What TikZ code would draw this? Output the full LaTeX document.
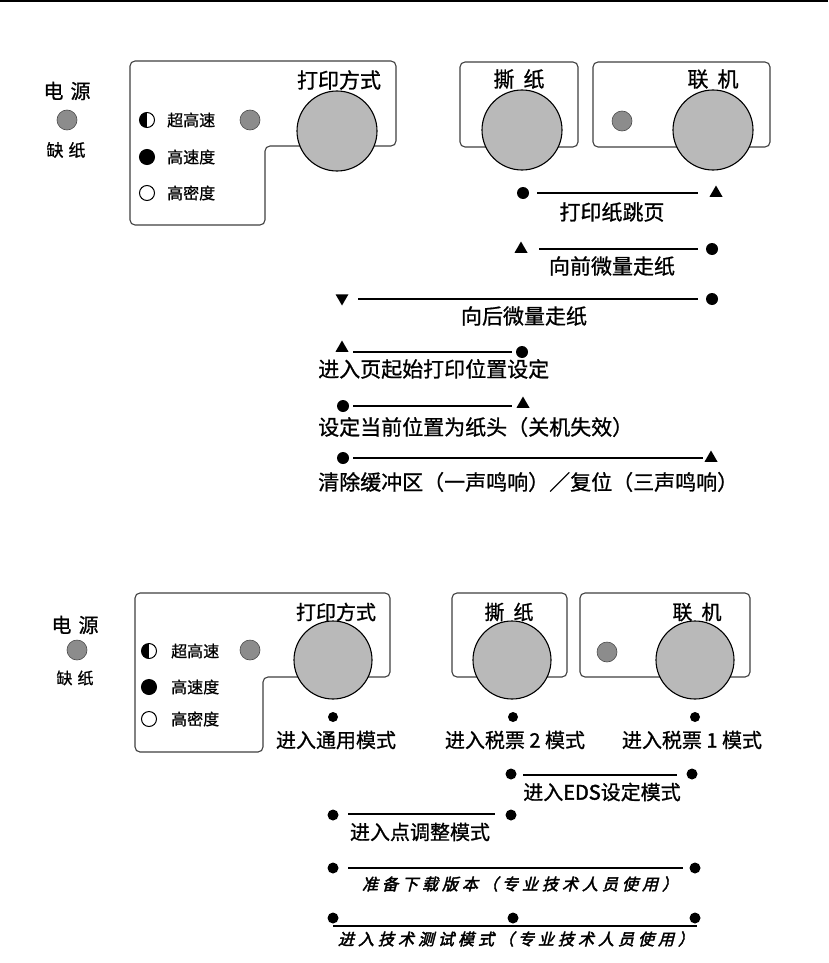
\documentclass[tikz,border=0pt]{standalone}
\usepackage{fontspec}
\setmainfont{Noto Sans CJK SC}[FakeBold=0.9]
\newfontfamily\cjkb[FakeBold=2.2]{Noto Sans CJK SC}
\newfontfamily\cjkit[FakeSlant=0.25,FakeBold=2.5,LetterSpace=25]{Noto Sans CJK SC}
\usetikzlibrary{shapes.geometric}
\tikzset{
  panel/.style={draw=black!75, line width=1.1pt, rounded corners=5pt},
  knob/.style={circle, draw=black, line width=1.1pt, fill=gray!55, minimum size=80pt, inner sep=0pt},
  led/.style={circle, draw=black!70, line width=0.6pt, fill=gray!90, minimum size=20pt, inner sep=0pt},
  ind/.style={circle, draw=black, line width=1pt, minimum size=15pt, inner sep=0pt},
  halfind/.style={ind, fill=white, path picture={\fill[black] (path picture bounding box.south) rectangle (path picture bounding box.north west);}},
  dotm/.style={circle, fill=black, minimum size=12pt, inner sep=0pt},
  dots/.style={circle, fill=black, minimum size=11pt, inner sep=0pt},
  triu/.style={regular polygon, regular polygon sides=3, fill=black, inner sep=0pt, minimum size=15pt},
  trid/.style={triu, shape border rotate=180},
  lbl/.style={font=\fontsize{21}{21}\selectfont, inner sep=0pt},
  lblb/.style={font=\fontsize{20}{20}\selectfont, inner sep=0pt},
  small/.style={font=\fontsize{16}{16}\selectfont, inner sep=0pt},
  ital/.style={font=\fontsize{16}{16}\selectfont\cjkit, inner sep=0pt},
  rule/.style={line width=1.8pt}
}
\begin{document}
\begin{tikzpicture}[x=1pt,y=-1pt]
\useasboundingbox (0,0) rectangle (828,963);
\fill[white] (0,0) rectangle (828,963);
\fill[black] (0,0) rectangle (828,2.5);

% ===== top panel =====
\node[lbl, font=\fontsize{20}{20}\selectfont] (pwrA) at (67,91) {电\hspace{7pt}源};
\node[led] (pledA) at (67,120) {};
\node[small, font=\fontsize{17}{17}\selectfont] (lackA) at (66,150) {缺\hspace{5pt}纸};

\draw[panel] (130,61) -- (396,61) -- (396,146) -- (265,146) -- (265,225) -- (130,225) -- cycle;
\node[lbl] (modeA) at (339,80) {打印方式};
\node[knob] (kmodeA) at (337,131) {};
\node[led] (lmodeA) at (250,120) {};
\node[halfind] (i1A) at (147,120) {};
\node[ind, fill=black] (i2A) at (147,157) {};
\node[ind, fill=white] (i3A) at (147,193) {};
\node[small, anchor=west] (t1A) at (167,120) {超高速};
\node[small, anchor=west] (t2A) at (167,157) {高速度};
\node[small, anchor=west] (t3A) at (167,193) {高密度};

\draw[panel] (460,62) rectangle (578,147);
\node[lbl] (tearA) at (519,79) {撕\hspace{9pt}纸};
\node[knob] (ktearA) at (522,130) {};

\draw[panel] (593,62) rectangle (770,147);
\node[lbl] (onA) at (713,79) {联\hspace{9pt}机};
\node[led] (lonA) at (622,121) {};
\node[knob] (konA) at (713,130) {};

% rows
\node[dotm] (r1a) at (523,193) {};
\node[triu] (r1b) at (716,193) {};
\coordinate (r1s) at (537,193); \coordinate (r1e) at (698,193);
\draw[rule] (r1s) -- (r1e);
\node[lbl] (r1t) at (612,212) {打印纸跳页};

\node[triu] (r2a) at (521,249) {};
\node[dotm] (r2b) at (712,249) {};
\coordinate (r2s) at (539,249); \coordinate (r2e) at (698,249);
\draw[rule] (r2s) -- (r2e);
\node[lbl] (r2t) at (612,266) {向前微量走纸};

\node[trid] (r3a) at (342,298) {};
\node[dotm] (r3b) at (712,299) {};
\coordinate (r3s) at (358,299); \coordinate (r3e) at (698,299);
\draw[rule] (r3s) -- (r3e);
\node[lbl] (r3t) at (524,316) {向后微量走纸};

\node[triu] (r4a) at (342,348) {};
\node[dotm] (r4b) at (522,352) {};
\coordinate (r4s) at (353,352); \coordinate (r4e) at (512,352);
\draw[rule] (r4s) -- (r4e);
\node[lbl, anchor=west] (r4t) at (318,369) {进入页起始打印位置设定};

\node[dotm] (r5a) at (343,406) {};
\node[triu] (r5b) at (523,404) {};
\coordinate (r5s) at (353,406); \coordinate (r5e) at (512,406);
\draw[rule] (r5s) -- (r5e);
\node[lbl, anchor=west] (r5t) at (318,427) {设定当前位置为纸头（关机失效）};

\node[dotm] (r6a) at (343,458) {};
\node[triu] (r6b) at (711,458) {};
\coordinate (r6s) at (353,458); \coordinate (r6e) at (703,458);
\draw[rule] (r6s) -- (r6e);
\node[lbl, anchor=west] (r6t) at (318,482) {清除缓冲区（一声鸣响）／复位（三声鸣响）};

% ===== bottom panel =====
\node[lblb] (pwrB) at (75,625) {电\hspace{7pt}源};
\node[led] (pledB) at (77,650) {};
\node[small] (lackB) at (75,678) {缺\hspace{5pt}纸};

\draw[panel] (135,593) -- (390,593) -- (390,677) -- (263,677) -- (263,752) -- (135,752) -- cycle;
\node[lblb] (modeB) at (336,612) {打印方式};
\node[knob, minimum size=78pt] (kmodeB) at (333,660) {};
\node[led] (lmodeB) at (250,650) {};
\node[halfind] (i1B) at (149,651) {};
\node[ind, fill=black] (i2B) at (149,687) {};
\node[ind, fill=white] (i3B) at (149,719) {};
\node[small, anchor=west] (t1B) at (171,651) {超高速};
\node[small, anchor=west] (t2B) at (171,687) {高速度};
\node[small, anchor=west] (t3B) at (171,719) {高密度};

\draw[panel] (452,593) rectangle (567,677);
\node[lblb] (tearB) at (509,612) {撕\hspace{9pt}纸};
\node[knob, minimum size=78pt] (ktearB) at (512,660) {};

\draw[panel] (580,593) rectangle (750,677);
\node[lblb] (onB) at (697,612) {联\hspace{9pt}机};
\node[led] (lonB) at (607,652) {};
\node[knob, minimum size=78pt] (konB) at (695,660) {};

\node[dots, minimum size=10pt] (m1) at (333,717) {};
\node[lblb] (m1t) at (336,740) {进入通用模式};
\node[dots, minimum size=10pt] (m2) at (513,717) {};
\node[lblb] (m2t) at (515,740) {进入税票 2 模式};
\node[dots, minimum size=10pt] (m3) at (695,717) {};
\node[lblb] (m3t) at (692,740) {进入税票 1 模式};

\node[dots] (e1a) at (511,774) {};
\node[dots] (e1b) at (692,774) {};
\coordinate (e1s) at (523,775); \coordinate (e1e) at (677,775);
\draw[rule] (e1s) -- (e1e);
\node[lblb] (e1t) at (602,792) {进入{\cjkb EDS}设定模式};

\node[dots] (e2a) at (333,815) {};
\node[dots] (e2b) at (511,815) {};
\coordinate (e2s) at (348,814); \coordinate (e2e) at (495,814);
\draw[rule] (e2s) -- (e2e);
\node[lblb] (e2t) at (420,832) {进入点调整模式};

\node[dots] (e3a) at (333,868) {};
\node[dots] (e3b) at (695,868) {};
\coordinate (e3s) at (348,868); \coordinate (e3e) at (683,868);
\draw[rule] (e3s) -- (e3e);
\node[ital] (e3t) at (520,884) {准备下载版本（专业技术人员使用）};

\node[dots] (e4a) at (333,918) {};
\node[dots] (e4b) at (513,918) {};
\node[dots] (e4c) at (695,918) {};
\coordinate (e4s) at (333,926); \coordinate (e4e) at (697,926);
\draw[rule] (e4s) -- (e4e);
\node[ital] (e4t) at (516,939) {进入技术测试模式（专业技术人员使用）};
\end{tikzpicture}
\end{document}
